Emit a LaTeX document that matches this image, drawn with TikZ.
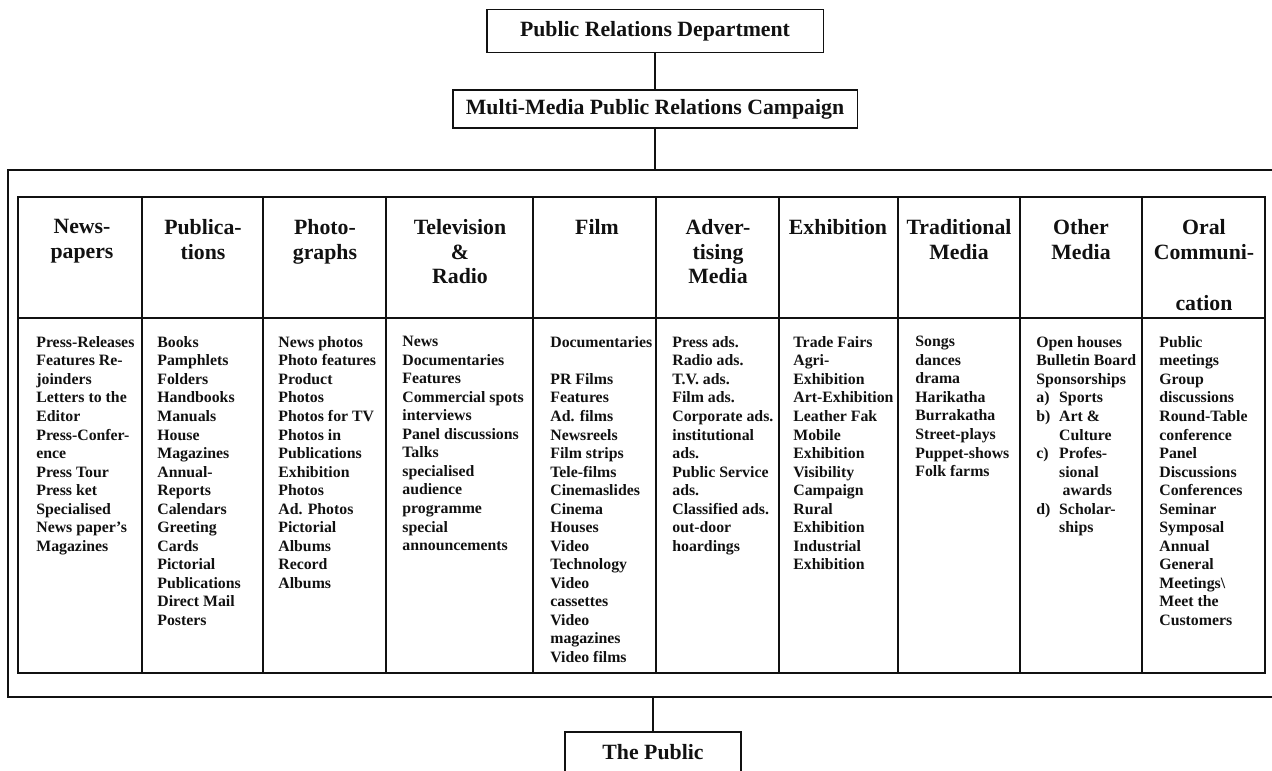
\documentclass[tikz,border=0pt]{standalone}
\usepackage{fontspec}
\setmainfont{Liberation Serif}
\definecolor{Ink}{HTML}{111111}
\tikzset{
  titlebox/.style={draw=Ink,line width=1.1pt,inner sep=0pt,text=Ink,font=\bfseries\fontsize{12.4}{14}\selectfont},
  headtext/.style={anchor=north,align=center,inner sep=0pt,text=Ink,font=\bfseries\fontsize{12.4}{14}\selectfont},
  itemtext/.style={anchor=north west,align=left,inner sep=0pt,text=Ink,font=\bfseries\fontsize{9}{10.55}\selectfont},
  link/.style={draw=Ink,line width=1.1pt},
}

\begin{document}
\begin{tikzpicture}[x=0.02cm,y=-0.02cm]
\useasboundingbox (0,0) rectangle (1272,771);
% chain of boxes
\node[titlebox,minimum width=6.74cm,minimum height=0.86cm] (dept) at (655,31) {Public Relations Department};
\node[titlebox,minimum width=8.1cm,minimum height=0.76cm] (campaign) at (655,109) {Multi-Media Public Relations Campaign};
\node[titlebox,minimum width=3.52cm,minimum height=0.8cm] (public) at (653,752) {The Public};
\coordinate (frametop) at (655,170);
\coordinate (framebot) at (653,697);
\draw[link] (dept) -- (campaign);
\draw[link] (campaign) -- (frametop);
\draw[link] (framebot) -- (public);
% outer frame, open to the right
\draw[Ink,line width=1.3pt] (1272,170) -- (8,170) -- (8,697) -- (1272,697);
% inner table
\draw[Ink,line width=1.0pt] (18,197) rectangle (1265,673);
\draw[Ink,line width=1.0pt] (18,318) -- (1265,318);
\draw[Ink,line width=0.6pt] (142,197) -- (142,673);
\draw[Ink,line width=0.6pt] (263,197) -- (263,673);
\draw[Ink,line width=0.6pt] (386,197) -- (386,673);
\draw[Ink,line width=0.6pt] (533,197) -- (533,673);
\draw[Ink,line width=0.6pt] (656,197) -- (656,673);
\draw[Ink,line width=0.6pt] (779,197) -- (779,673);
\draw[Ink,line width=0.6pt] (898,197) -- (898,673);
\draw[Ink,line width=0.6pt] (1020,197) -- (1020,673);
\draw[Ink,line width=0.6pt] (1142,197) -- (1142,673);
% column heads
\node[headtext] (hnews) at (82,219) {News-\\papers};
\node[headtext] (hpubl) at (203,219) {Publica-\\tions};
\node[headtext] (hphoto) at (325,219) {Photo-\\graphs};
\node[headtext] (htv) at (460,219) {Television\\\&\\Radio};
\node[headtext] (hfilm) at (597,219) {Film};
\node[headtext] (hadv) at (718,219) {Adver-\\tising\\Media};
\node[headtext] (hexhib) at (838,219) {Exhibition};
\node[headtext] (htrad) at (959,219) {Traditional\\Media};
\node[headtext] (hother) at (1081,219) {Other\\Media};
\node[headtext] (horal) at (1204,219) {Oral\\Communi-\\[15pt]cation};
% column items
\node[itemtext] (lnews) at (36,336) {Press-Releases\\Features Re-\\joinders\\Letters to the\\Editor\\Press-Confer-\\ence\\Press Tour\\Press ket\\Specialised\\News paper's\\Magazines};
\node[itemtext] (lpubl) at (157,336) {Books\\Pamphlets\\Folders\\Handbooks\\Manuals\\House\\Magazines\\Annual-\\Reports\\Calendars\\Greeting\\Cards\\Pictorial\\Publications\\Direct Mail\\Posters};
\node[itemtext] (lphoto) at (278,336) {News photos\\Photo features\\Product\\Photos\\Photos for TV\\Photos in\\Publications\\Exhibition\\Photos\\Ad. Photos\\Pictorial\\Albums\\Record\\Albums};
\node[itemtext] (ltv) at (402,336) {News\\Documentaries\\Features\\Commercial spots\\interviews\\Panel discussions\\Talks\\specialised\\audience\\programme\\special\\announcements};
\node[itemtext] (lfilm) at (550,336) {Documentaries\\[10.55pt]PR Films\\Features\\Ad. films\\Newsreels\\Film strips\\Tele-films\\Cinemaslides\\Cinema\\Houses\\Video\\Technology\\Video\\cassettes\\Video\\magazines\\Video films};
\node[itemtext] (ladv) at (672,336) {Press ads.\\Radio ads.\\T.V. ads.\\Film ads.\\Corporate ads.\\institutional\\ads.\\Public Service\\ads.\\Classified ads.\\out-door\\hoardings};
\node[itemtext] (lexhib) at (793,336) {Trade Fairs\\Agri-\\Exhibition\\Art-Exhibition\\Leather Fak\\Mobile\\Exhibition\\Visibility\\Campaign\\Rural\\Exhibition\\Industrial\\Exhibition};
\node[itemtext] (ltrad) at (915,336) {Songs\\dances\\drama\\Harikatha\\Burrakatha\\Street-plays\\Puppet-shows\\Folk farms};
\node[itemtext] (lother) at (1036,336) {Open houses\\Bulletin Board\\Sponsorships\\\makebox[13pt][l]{a)}Sports\\\makebox[13pt][l]{b)}Art \&\\\hspace*{13pt}Culture\\\makebox[13pt][l]{c)}Profes-\\\hspace*{13pt}sional\\\hspace*{15pt}awards\\\makebox[13pt][l]{d)}Scholar-\\\hspace*{13pt}ships};
\node[itemtext] (loral) at (1159,336) {Public\\meetings\\Group\\discussions\\Round-Table\\conference\\Panel\\Discussions\\Conferences\\Seminar\\Symposal\\Annual\\General\\Meetings\textbackslash\\Meet the\\Customers};
\end{tikzpicture}
\end{document}
